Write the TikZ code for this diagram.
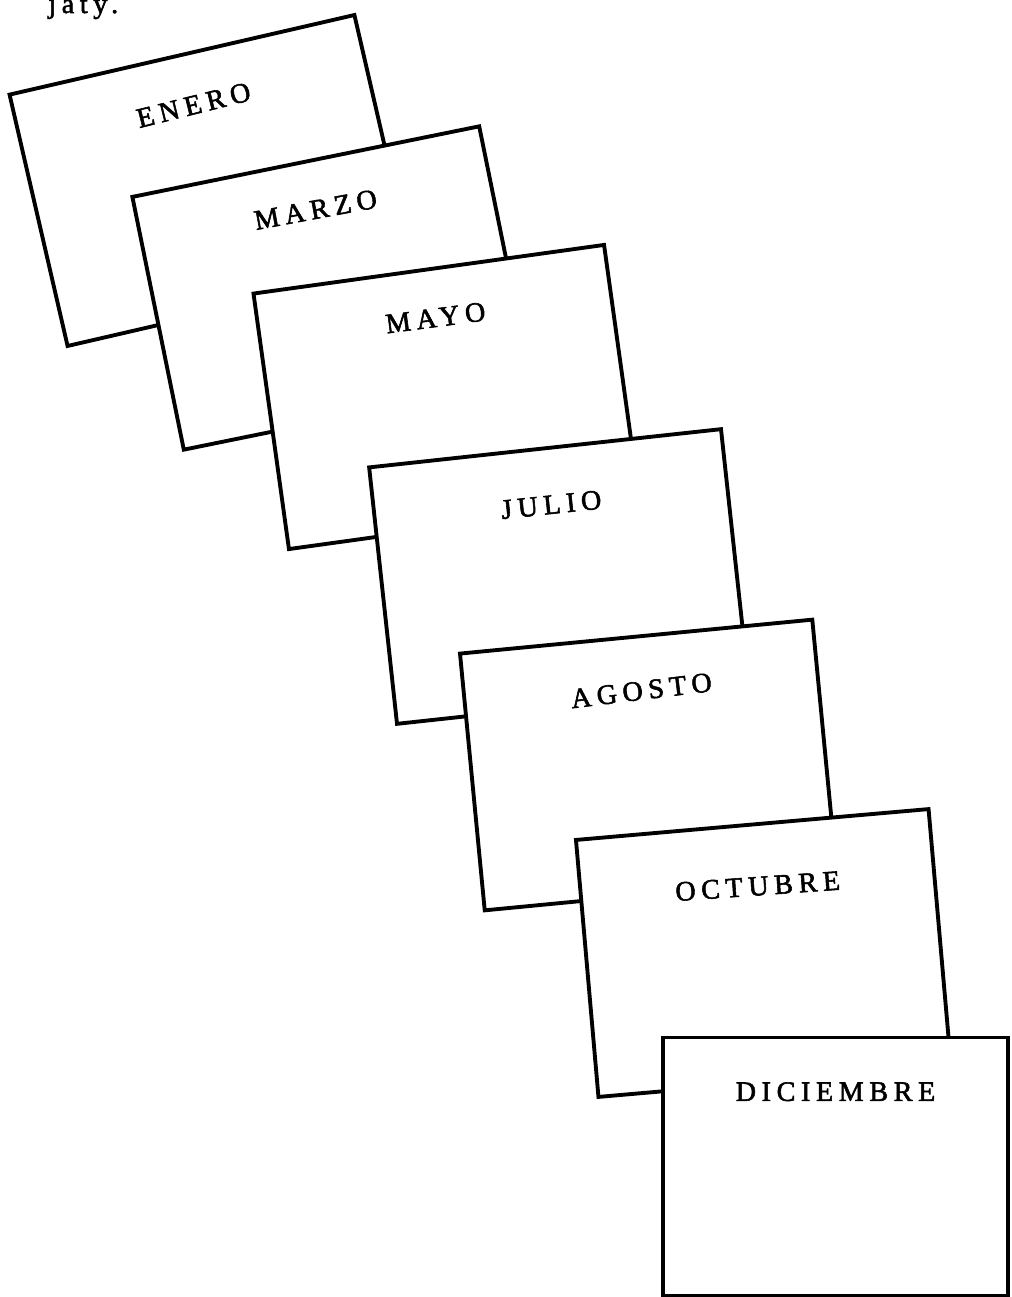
\documentclass[tikz,border=0pt]{standalone}
\usepackage{fontspec}
\setmainfont{Liberation Serif}
\newfontfamily\cardfont[LetterSpace=20, FakeBold=2]{Liberation Serif}
\usetikzlibrary{calc}
\tikzstyle{card} = [rectangle, minimum width=7.08cm, minimum height=5.16cm, inner sep=0pt, outer sep=0pt, draw=black, line width=2.2pt, fill=white]
\tikzstyle{month} = [inner sep=0pt, font={\cardfont\fontsize{16}{19}\selectfont}]

\begin{document}
\begin{tikzpicture}[x=0.02cm, y=-0.02cm]
\useasboundingbox (0,0) rectangle (1011,1297);

\node (pagetext) [month, anchor=base west] at (48,13) {jaty.};

\node (enero) [card, rotate=13] at (211,180.5) {};
\node (eneroname) [month, rotate=14] at ($(enero.north)!0.2!(enero.south)$) {ENERO};

\node (marzo) [card, rotate=11.5] at (331.5,288) {};
\node (marzoname) [month, rotate=10.5] at ($(marzo.north)!0.19!(marzo.south)$) {MARZO};

\node (mayo) [card, rotate=7.9] at (446.5,397) {};
\node (mayoname) [month, rotate=7.5] at ($(mayo.north)!0.19!(mayo.south)$) {MAYO};

\node (julio) [card, rotate=6.2] at (559,576.5) {};
\node (julioname) [month, rotate=6] at ($(julio.north)!0.22!(julio.south)$) {JULIO};

\node (agosto) [card, rotate=5.5] at (648.5,765) {};
\node (agostoname) [month, rotate=7] at ($(agosto.north)!0.21!(agosto.south)$) {AGOSTO};

\node (octubre) [card, rotate=5] at (763.5,953) {};
\node (octubrename) [month, rotate=4] at ($(octubre.north)!0.24!(octubre.south)$) {OCTUBRE};

\node (diciembre) [card, minimum width=6.9cm] at (835.5,1166.5) {};
\node (diciembrename) [month] at ($(diciembre.north)!0.21!(diciembre.south)$) {DICIEMBRE};

\end{tikzpicture}
\end{document}
